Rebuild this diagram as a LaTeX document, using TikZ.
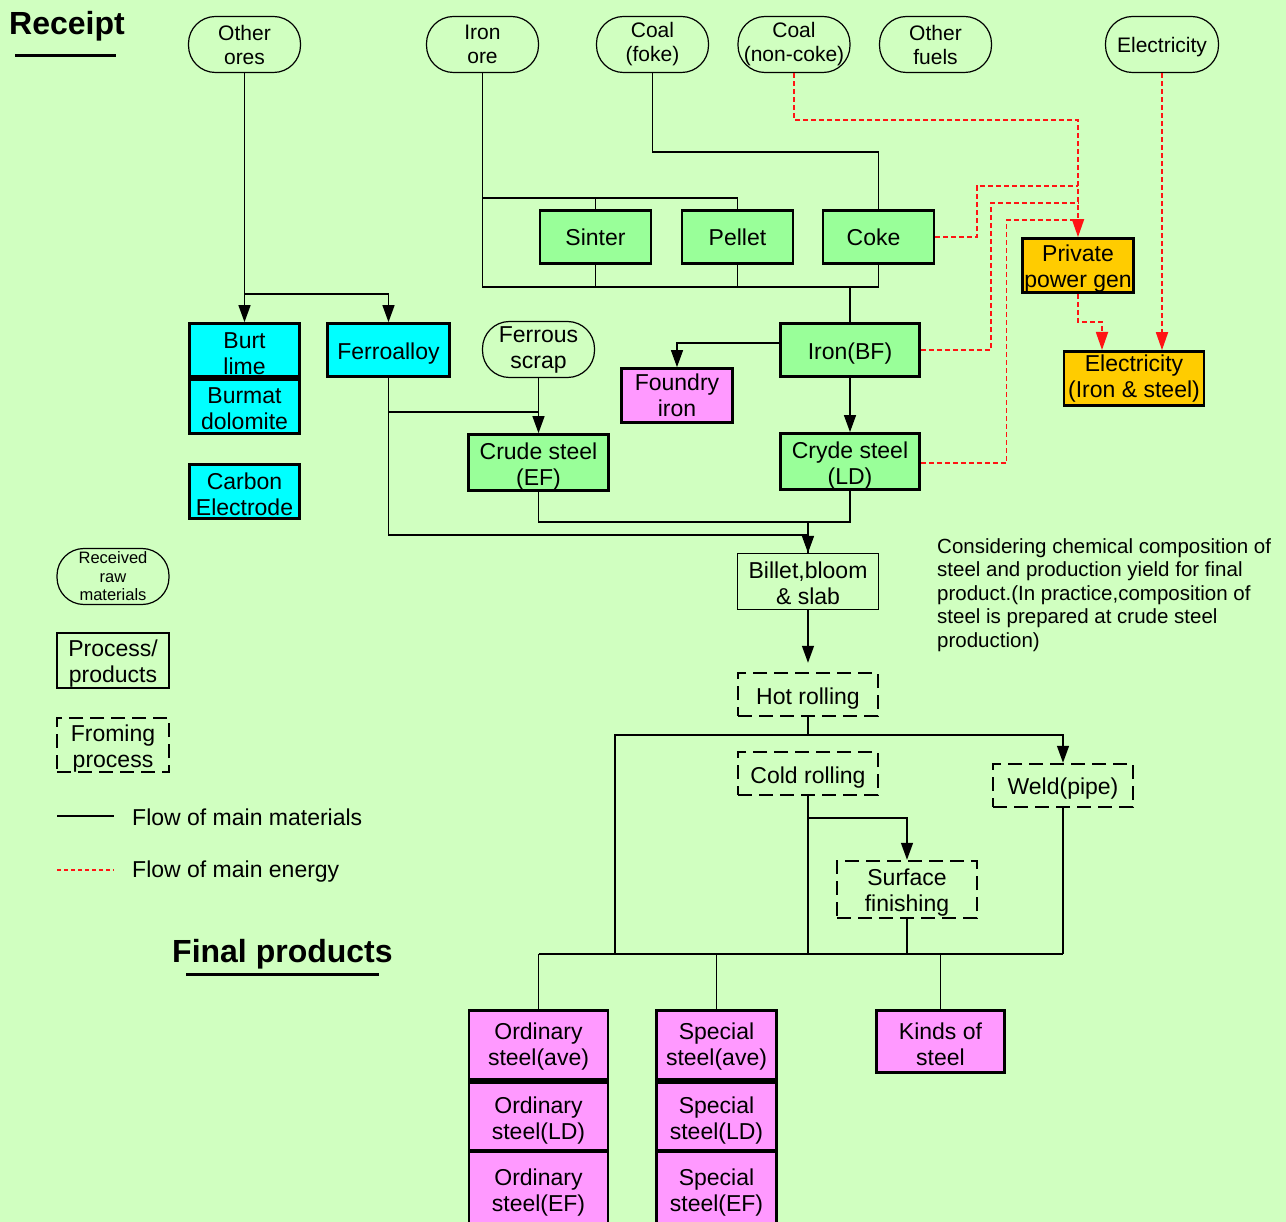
\documentclass[tikz,border=0pt]{standalone}
\usepackage{fontspec}
\setmainfont{Liberation Sans}
\usetikzlibrary{arrows.meta}

\definecolor{bg}{RGB}{208,255,192}
\definecolor{procgreen}{RGB}{153,255,153}
\definecolor{matcyan}{RGB}{0,255,255}
\definecolor{prodpink}{RGB}{255,153,255}
\definecolor{powerorange}{RGB}{255,204,0}
\definecolor{flowred}{RGB}{255,20,20}

% invisible struts on the first line that set the text a little lower in its box
\newcommand{\fsa}{\rule{0pt}{0.9em}}
\newcommand{\fs}{\rule{0pt}{1.0em}}
\newcommand{\fsb}{\rule{0pt}{1.1em}}

\tikzset{
  base/.style={align=center, inner sep=0pt, text=black},
  rawmat/.style={base, draw, line width=1.2pt, rounded corners=27pt,
    font=\fontsize{21}{24}\selectfont},
  procbox/.style={base, draw, line width=2.7pt, font=\fontsize{23}{26}\selectfont},
  greenbox/.style={procbox, fill=procgreen},
  cyanbox/.style={procbox, fill=matcyan},
  pinkbox/.style={procbox, fill=prodpink},
  orangebox/.style={procbox, fill=powerorange},
  thinbox/.style={base, draw, line width=1.2pt, font=\fontsize{23}{26}\selectfont},
  formbox/.style={base, draw, line width=2.4pt, dash pattern=on 14pt off 7pt,
    font=\fontsize{23}{26}\selectfont},
  flow/.style={line width=1.3pt},
  tip/.style={-{Triangle[length=17pt,width=12pt]}},
  energy/.style={draw=flowred, line width=1.8pt, dash pattern=on 5pt off 3pt},
  etip/.style={-{Triangle[length=18pt,width=12pt]}},
  label/.style={inner sep=0pt, font=\fontsize{23}{26}\selectfont},
  heading/.style={inner sep=0pt, font=\fontsize{32}{36}\selectfont\bfseries},
}

\begin{document}
\begin{tikzpicture}[x=1pt,y=-1pt]
\useasboundingbox (0,0) rectangle (1286,1222);
\fill[bg] (0,0) rectangle (1286,1222);

% headings
\node[heading, anchor=base west] (receipt) at (9,35) {Receipt};
\draw[line width=3pt] (15,56) -- (116,56);
\node[heading, anchor=base west] (final) at (172,962) {Final products};
\draw[line width=3pt] (186,974) -- (379,974);

% received raw materials
\node[rawmat, minimum width=112pt, minimum height=56pt] (ores) at (244.5,44.5) {Other\\ores};
\node[rawmat, minimum width=112pt, minimum height=56pt] (ironore) at (482.5,44.5) {Iron\\ore};
\node[rawmat, minimum width=112pt, minimum height=56pt] (coalf) at (652.5,44.5) {Coal\\(foke)};
\node[rawmat, minimum width=112pt, minimum height=56pt] (coaln) at (794,44.5) {Coal\\(non-coke)};
\node[rawmat, minimum width=112pt, minimum height=56pt] (othf) at (935.5,44.5) {Other\\fuels};
\node[rawmat, minimum width=113pt, minimum height=56pt] (elec) at (1162,44.5) {\fs Electricity};
\node[rawmat, minimum width=112pt, minimum height=56pt, font=\fontsize{23}{26}\selectfont] (scrap) at (538.5,349.5) {Ferrous\\scrap};

% processes
\node[greenbox, minimum width=111pt, minimum height=53pt] (sinter) at (595.5,237) {Sinter};
\node[greenbox, minimum width=111pt, minimum height=53pt] (pellet) at (737.5,237) {Pellet};
\node[greenbox, minimum width=111pt, minimum height=53pt] (coke) at (878.5,237) {\hspace*{-10pt}Coke};
\node[greenbox, minimum width=139pt, minimum height=53pt] (ironbf) at (850,350) {\fs Iron(BF)};
\node[greenbox, minimum width=140pt, minimum height=54pt] (crudeef) at (538.5,462.5) {\fsb Crude steel\\(EF)};
\node[greenbox, minimum width=139pt, minimum height=54pt] (crydeld) at (850,461.5) {\fsb Cryde steel\\(LD)};

% auxiliary materials
\node[cyanbox, minimum width=110pt, minimum height=53pt] (burt) at (244.5,350) {\fs Burt\\lime};
\node[cyanbox, minimum width=110pt, minimum height=54pt] (burmat) at (244.5,406.5) {\fsa Burmat\\dolomite};
\node[cyanbox, minimum width=122pt, minimum height=53pt] (ferro) at (388.5,350) {\fs Ferroalloy};
\node[cyanbox, minimum width=110pt, minimum height=54pt] (carbon) at (244.5,491.5) {\fs Carbon\\Electrode};

% products
\node[pinkbox, minimum width=111pt, minimum height=54pt] (foundry) at (677,395.5) {Foundry\\iron};
\node[pinkbox, minimum width=139pt, minimum height=69pt] (ord1) at (538.5,1045) {\fsa Ordinary\\steel(ave)};
\node[pinkbox, minimum width=139pt, minimum height=68pt] (ord2) at (538.5,1116.5) {\fsb Ordinary\\steel(LD)};
\node[pinkbox, minimum width=139pt, minimum height=78pt] (ord3) at (538.5,1191) {\fsa Ordinary\\steel(EF)};
\node[pinkbox, minimum width=120pt, minimum height=69pt] (spe1) at (716.5,1045) {\fsa Special\\steel(ave)};
\node[pinkbox, minimum width=120pt, minimum height=68pt] (spe2) at (716.5,1116.5) {\fsb Special\\steel(LD)};
\node[pinkbox, minimum width=120pt, minimum height=78pt] (spe3) at (716.5,1191) {\fsa Special\\steel(EF)};
\node[pinkbox, minimum width=128pt, minimum height=62pt] (kinds) at (940.5,1041.5) {\fs Kinds of\\steel};

% power
\node[orangebox, minimum width=111pt, minimum height=54pt] (ppg) at (1078,265.5) {\fs Private\\power gen};
\node[orangebox, minimum width=140pt, minimum height=54pt] (eis) at (1134,378.5) {Electricity\\(Iron \& steel)};

% semi-finished and forming
\node[thinbox, minimum width=141pt, minimum height=56pt] (billet) at (808,581.5) {\fsa Billet,bloom\\\& slab};
\node[formbox, minimum width=140pt, minimum height=43pt] (hot) at (808,694.5) {\fsb Hot rolling};
\node[formbox, minimum width=140pt, minimum height=43pt] (cold) at (808,773.5) {\fsb Cold rolling};
\node[formbox, minimum width=140pt, minimum height=43pt] (weld) at (1063,785.5) {\fs Weld(pipe)};
\node[formbox, minimum width=140pt, minimum height=57pt] (surf) at (907,889.5) {\fs Surface\\finishing};

% note
\node[inner sep=0pt, anchor=north west, align=left, font=\fontsize{20.5}{23.5}\selectfont] (note) at (937,538)
  {Considering chemical composition of\\steel and production yield for final\\product.(In practice,composition of\\steel is prepared at crude steel\\production)};

% legend
\node[rawmat, minimum width=112pt, minimum height=56pt, font=\fontsize{16.5}{18.5}\selectfont] (lgraw) at (113,576.5) {Received\\raw\\materials};
\node[thinbox, line width=2pt, minimum width=112pt, minimum height=55pt] (lgproc) at (113,660.5) {\fs Process/\\products};
\node[formbox, minimum width=112pt, minimum height=54pt] (lgform) at (113,745) {\fs Froming\\process};
\coordinate (lgm1) at (57,816);
\coordinate (lgm2) at (114,816);
\coordinate (lge1) at (57,870);
\coordinate (lge2) at (114,870);
\draw[flow] (lgm1) -- (lgm2);
\draw[energy, line width=1.3pt, dash pattern=on 4pt off 3pt] (lge1) -- (lge2);
\node[label, anchor=base west] (lgmt) at (132,825) {Flow of main materials};
\node[label, anchor=base west] (lget) at (132,877) {Flow of main energy};

% ---- material flows ----
\coordinate (jores) at (244.5,294);
\draw[flow, tip] (ores.south) -- (burt.north);
\draw[flow, tip] (jores) -| (ferro.north);

\coordinate (oretop) at (482.5,198);
\coordinate (orebot) at (482.5,287);
\draw[flow] (ironore.south) -- (orebot) -| (coke.south);
\draw[flow] (oretop) -| (pellet.north);
\draw[flow] (sinter.north) -- (sinter.north |- oretop);
\draw[flow] (sinter.south) -- (sinter.south |- orebot);
\draw[flow] (pellet.south) -- (pellet.south |- orebot);
\draw[flow] (ironbf.north) -- (ironbf.north |- orebot);

\coordinate (coalbend) at (652.5,152);
\draw[flow] (coalf.south) -- (coalbend) -| (coke.north);

\draw[flow, tip] ([yshift=7pt]ironbf.west) -| (foundry.north);
\draw[flow, tip] (ironbf.south) -- (crydeld.north);

\coordinate (fabend) at (388.5,535);
\coordinate (fajoin) at (388.5,412);
\coordinate (scrapjoin) at (538.5,412);
\coordinate (ldjoin) at (808,522);
\draw[flow] (ferro.south) -- (fabend) -| (billet.north);
\draw[flow] (fajoin) -- (scrapjoin);
\draw[flow, tip] (scrap.south) -- (crudeef.north);
\draw[flow] (crudeef.south) |- (ldjoin);
\draw[flow, tip] (crydeld.south) |- (ldjoin) -- (billet.north);

\draw[flow, tip] (billet.south) -- ([yshift=9pt]hot.north);

\coordinate (hotsplit) at (808,735);
\coordinate (busl) at (615,954);
\coordinate (busc) at (808,954);
\coordinate (bussf) at (907,954);
\coordinate (busr) at (1063,954);
\coordinate (busord) at (538.5,954);
\coordinate (coldsplit) at (808,818);
\draw[flow] (hot.south) -- (hotsplit) -| (busl);
\draw[flow, tip] (hotsplit) -| (weld.north);
\draw[flow] (cold.south) -- (busc);
\draw[flow, tip] (coldsplit) -| (surf.north);
\draw[flow] (surf.south) -- (bussf);
\draw[flow] (weld.south) -- (busr);
\draw[flow] (busord) -- (busr);
\draw[flow] (busord) -- (ord1.north);
\draw[flow] (spe1.north |- busord) -- (spe1.north);
\draw[flow] (kinds.north |- busord) -- (kinds.north);

% ---- energy flows ----
\coordinate (nc1) at (794,120);
\coordinate (cokee1) at (977,237);
\coordinate (cokee2) at (977,186);
\coordinate (bfe1) at (991,350);
\coordinate (bfe2) at (991,203);
\coordinate (lde1) at (1006.5,463);
\coordinate (lde2) at (1006.5,220);
\coordinate (pgjoin) at (1078,220);
\coordinate (ppgbend) at (1078,322);
\coordinate (eisin) at (1102,350);
\draw[energy, etip] (coaln.south) -- (nc1) -| (ppg.north);
\draw[energy] (coke.east) -- (cokee1) -- (cokee2) -- (cokee2 -| ppg.north);
\draw[energy] (ironbf.east |- bfe1) -- (bfe1) -- (bfe2) -- (bfe2 -| ppg.north);
\draw[energy] (crydeld.east |- lde1) -- (lde1) -- (lde2) -- (pgjoin);
\draw[energy, etip] (ppg.south) -- (ppgbend) -| (eisin);
\draw[energy, etip] (elec.south) -- (elec.south |- eis.north);
\end{tikzpicture}
\end{document}
